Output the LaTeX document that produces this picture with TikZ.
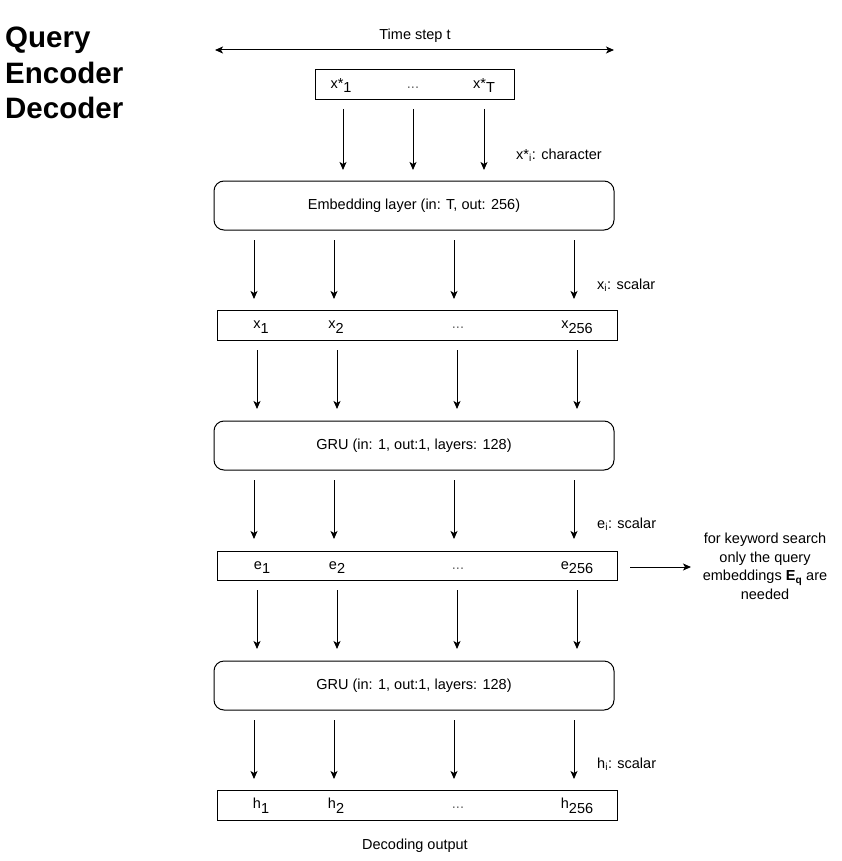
\documentclass[tikz,border=0pt]{standalone}
\usepackage{fontspec}
\setmainfont{Liberation Sans}
\usetikzlibrary{arrows.meta}
\newcommand\fsn{\fontsize{14.5}{17}\selectfont}
\newcommand\lowsub[1]{\raisebox{-4.5pt}{#1}}
\tikzset{
  boxr/.style={draw, line width=1pt, inner sep=0pt},
  rbox/.style={draw, line width=1pt, inner sep=0pt, rounded corners=10pt, font=\fsn},
  lbl/.style={font=\fsn, anchor=base, inner sep=0pt},
  dots/.style={font=\fsn, anchor=base, inner sep=0pt, text=black!60},
  side/.style={font=\fsn, anchor=west, inner sep=0pt},
  arr/.style={-{Stealth[length=8pt,width=7pt,inset=2pt]}, line width=1pt},
  ttl/.style={font=\fontsize{29.5}{34}\selectfont\bfseries, anchor=base west, inner sep=0pt}
}
\begin{document}
\begin{tikzpicture}[x=1pt,y=-1pt]
\useasboundingbox[fill=white] (0,0) rectangle (841,861);
% title
\node[ttl] (t1) at (5,48) {Query};
\node[ttl] (t2) at (5,84) {Encoder};
\node[ttl] (t3) at (5,119) {Decoder};
% time step arrow
\coordinate (tl) at (215,50);
\coordinate (tr) at (614,50);
\draw[{Stealth[length=8pt,width=7pt,inset=2pt]}-{Stealth[length=8pt,width=7pt,inset=2pt]}, line width=1pt] (tl) -- (tr);
\node[font=\fsn, inner sep=0pt] (tlab) at (415,36) {Time step t};
% input box
\node[boxr, minimum width=199pt, minimum height=30pt] (xs) at (414.5,85) {};
\node[lbl] (xs1) at (341,88.5) {x*\lowsub{1}};
\node[dots] (xsd) at (413,88.5) {...};
\node[lbl] (xsT) at (484,88.5) {x*\lowsub{T}};
\foreach \i/\x in {1/343,2/413,3/484}{
  \coordinate (a\i) at (\x,109); \coordinate (b\i) at (\x,170);
  \draw[arr] (a\i) -- (b\i);}
\node[side] (lchar) at (516,155) {x*\textsubscript{i}: character};
% embedding
\node[rbox, minimum width=400pt, minimum height=49pt] (emb) at (414,205.5) {Embedding layer (in: T, out: 256)};
\foreach \i/\x in {1/254,2/334,3/454,4/574}{
  \coordinate (c\i) at (\x,240); \coordinate (d\i) at (\x,299);
  \draw[arr] (c\i) -- (d\i);}
\node[side] (lx) at (597,285) {x\textsubscript{i}: scalar};
% x box
\node[boxr, minimum width=400pt, minimum height=30pt] (xb) at (417,325) {};
\node[lbl] (x1) at (261,328.5) {x\lowsub{1}};
\node[lbl] (x2) at (336,328.5) {x\lowsub{2}};
\node[dots] (xd) at (458,328.5) {...};
\node[lbl] (x3) at (577,328.5) {x\lowsub{256}};
\foreach \i/\x in {1/257,2/337,3/457,4/577}{
  \coordinate (f\i) at (\x,350); \coordinate (g\i) at (\x,409);
  \draw[arr] (f\i) -- (g\i);}
% GRU 1
\node[rbox, minimum width=400pt, minimum height=49pt] (gru1) at (414,445.5) {GRU (in: 1, out:1, layers: 128)};
\foreach \i/\x in {1/254,2/334,3/454,4/574}{
  \coordinate (h\i) at (\x,480); \coordinate (k\i) at (\x,539);
  \draw[arr] (h\i) -- (k\i);}
\node[side] (le) at (597,524) {e\textsubscript{i}: scalar};
% e box
\node[boxr, minimum width=400pt, minimum height=29pt] (eb) at (417,565.5) {};
\node[lbl] (e1) at (262,569) {e\lowsub{1}};
\node[lbl] (e2) at (337,569) {e\lowsub{2}};
\node[dots] (ed) at (458,569) {...};
\node[lbl] (e3) at (577,569) {e\lowsub{256}};
\coordinate (ra) at (630,567);
\coordinate (rb) at (691,567);
\node[font=\fontsize{14.5}{18.5}\selectfont, align=center, inner sep=0pt] (note) at (765,566.5) {for keyword search\\only the query\\embeddings \textbf{E}\textsubscript{\textbf{q}} are\\needed};
\draw[arr] (ra) -- (rb);
\foreach \i/\x in {1/257,2/337,3/457,4/577}{
  \coordinate (m\i) at (\x,590); \coordinate (n\i) at (\x,649);
  \draw[arr] (m\i) -- (n\i);}
% GRU 2
\node[rbox, minimum width=400pt, minimum height=49pt] (gru2) at (414,685.5) {GRU (in: 1, out:1, layers: 128)};
\foreach \i/\x in {1/254,2/334,3/454,4/574}{
  \coordinate (p\i) at (\x,720); \coordinate (q\i) at (\x,779);
  \draw[arr] (p\i) -- (q\i);}
\node[side] (lh) at (597,764) {h\textsubscript{i}: scalar};
% h box
\node[boxr, minimum width=400pt, minimum height=30pt] (hb) at (417,805) {};
\node[lbl] (h1) at (261,808.5) {h\lowsub{1}};
\node[lbl] (h2) at (336,808.5) {h\lowsub{2}};
\node[dots] (hd) at (458,808.5) {...};
\node[lbl] (h3) at (577,808.5) {h\lowsub{256}};
\node[font=\fsn, inner sep=0pt] (dec) at (415,846) {Decoding output};
\end{tikzpicture}
\end{document}
